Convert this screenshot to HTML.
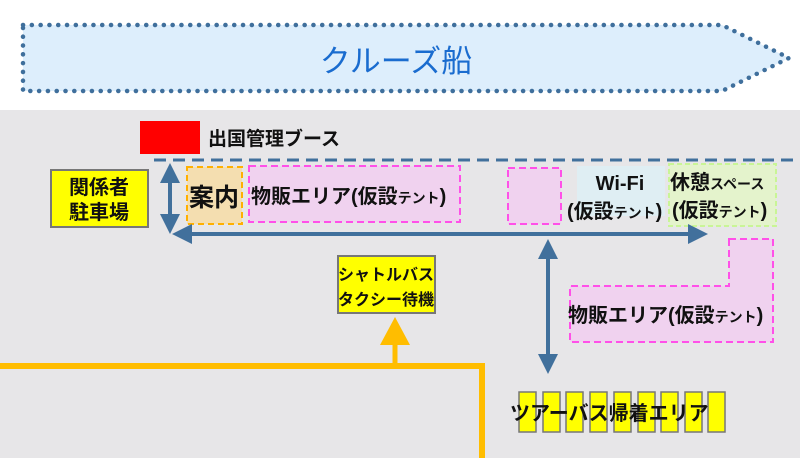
<!DOCTYPE html>
<html><head><meta charset="utf-8"><style>
body{margin:0;width:800px;height:458px;overflow:hidden;background:#fff}
text{font-family:"Liberation Sans","Noto Sans CJK JP",sans-serif;font-weight:bold;fill:#111}
</style></head><body>
<svg width="800" height="458" viewBox="0 0 800 458">
<defs>
<marker id="ab" markerWidth="5" markerHeight="5" refX="2.5" refY="2.5" orient="auto-start-reverse" markerUnits="strokeWidth"><path d="M0,0 L5,2.5 L0,5z" fill="#41709c"/></marker>
</defs>
<path d="M23,25 L722,25 L789,58 L722,91 L23,91Z" fill="#ddeefc" stroke="#3f6f9c" stroke-width="4.5" stroke-dasharray="0.1 8.7" stroke-linecap="round"/>
<text x="396" y="72" text-anchor="middle" font-size="31" style="font-weight:normal;fill:#1a6ccf">クルーズ船</text>
<rect x="0" y="110" width="800" height="348" fill="#e7e6e8"/>
<rect x="140" y="121" width="60" height="33" fill="#ff0000"/>
<text x="208" y="145" font-size="19">出国管理ブース</text>
<line x1="154" y1="160" x2="800" y2="160" stroke="#41709c" stroke-width="3" stroke-dasharray="12 7"/>
<rect x="51" y="170" width="97" height="57" fill="#ffff00" stroke="#777" stroke-width="2"/>
<text x="99" y="194" font-size="20" text-anchor="middle">関係者</text>
<text x="99" y="219" font-size="20" text-anchor="middle">駐車場</text>
<rect x="187" y="167" width="55" height="57" fill="#f4deb0" stroke="#ffb000" stroke-width="2" stroke-dasharray="6 4"/>
<text x="214" y="206" font-size="25" text-anchor="middle">案内</text>
<rect x="249" y="166" width="211" height="56" fill="#f0d2ef" stroke="#ff50e8" stroke-width="2" stroke-dasharray="7 4"/>
<text x="251" y="203" font-size="20">物販エリア(仮設<tspan font-size="14">テント</tspan>)</text>
<rect x="508" y="168" width="53" height="56" fill="#f0d2ef" stroke="#ff50e8" stroke-width="2" stroke-dasharray="7 4"/>
<rect x="577" y="166" width="88" height="50" fill="#dfeef3"/>
<text x="620" y="190" font-size="20" text-anchor="middle">Wi-Fi</text>
<text x="567" y="218" font-size="20">(仮設<tspan font-size="14">テント</tspan>)</text>
<rect x="669" y="164" width="107" height="62" fill="#e4f3cc" stroke="#c9f596" stroke-width="2" stroke-dasharray="5 3"/>
<text x="670" y="189" font-size="20">休憩<tspan font-size="14">スペース</tspan></text>
<text x="672" y="217" font-size="20">(仮設<tspan font-size="14">テント</tspan>)</text>
<path d="M729,239 L773,239 L773,342 L570,342 L570,286 L729,286Z" fill="#f0d2ef" stroke="#ff50e8" stroke-width="2" stroke-dasharray="7 4"/>
<text x="568" y="322" font-size="20">物販エリア(仮設<tspan font-size="14">テント</tspan>)</text>
<line x1="170" y1="173" x2="170" y2="224" stroke="#41709c" stroke-width="4" marker-start="url(#ab)" marker-end="url(#ab)"/>
<line x1="182" y1="234" x2="698" y2="234" stroke="#41709c" stroke-width="4" marker-start="url(#ab)" marker-end="url(#ab)"/>
<line x1="548" y1="249" x2="548" y2="364" stroke="#41709c" stroke-width="4" marker-start="url(#ab)" marker-end="url(#ab)"/>
<rect x="338" y="256" width="97" height="57" fill="#ffff00" stroke="#777" stroke-width="2"/>
<text x="386" y="280" font-size="16" text-anchor="middle">シャトルバス</text>
<text x="386" y="305" font-size="16" text-anchor="middle">タクシー待機</text>
<path d="M0,366 L482,366 L482,458" fill="none" stroke="#ffbd00" stroke-width="6"/>
<line x1="395" y1="366" x2="395" y2="335" stroke="#ffbd00" stroke-width="5"/>
<path d="M380,345 L395,317 L410,345Z" fill="#ffbd00"/>
<g fill="#ffff00" stroke="#777" stroke-width="1.5">
<rect x="519" y="392" width="17" height="40"/><rect x="543" y="392" width="17" height="40"/><rect x="566" y="392" width="17" height="40"/><rect x="590" y="392" width="17" height="40"/><rect x="614" y="392" width="17" height="40"/><rect x="638" y="392" width="17" height="40"/><rect x="661" y="392" width="17" height="40"/><rect x="685" y="392" width="17" height="40"/><rect x="708" y="392" width="17" height="40"/>
</g>
<text x="510" y="420" font-size="20">ツアーバス帰着エリア</text>
</svg>
</body></html>
